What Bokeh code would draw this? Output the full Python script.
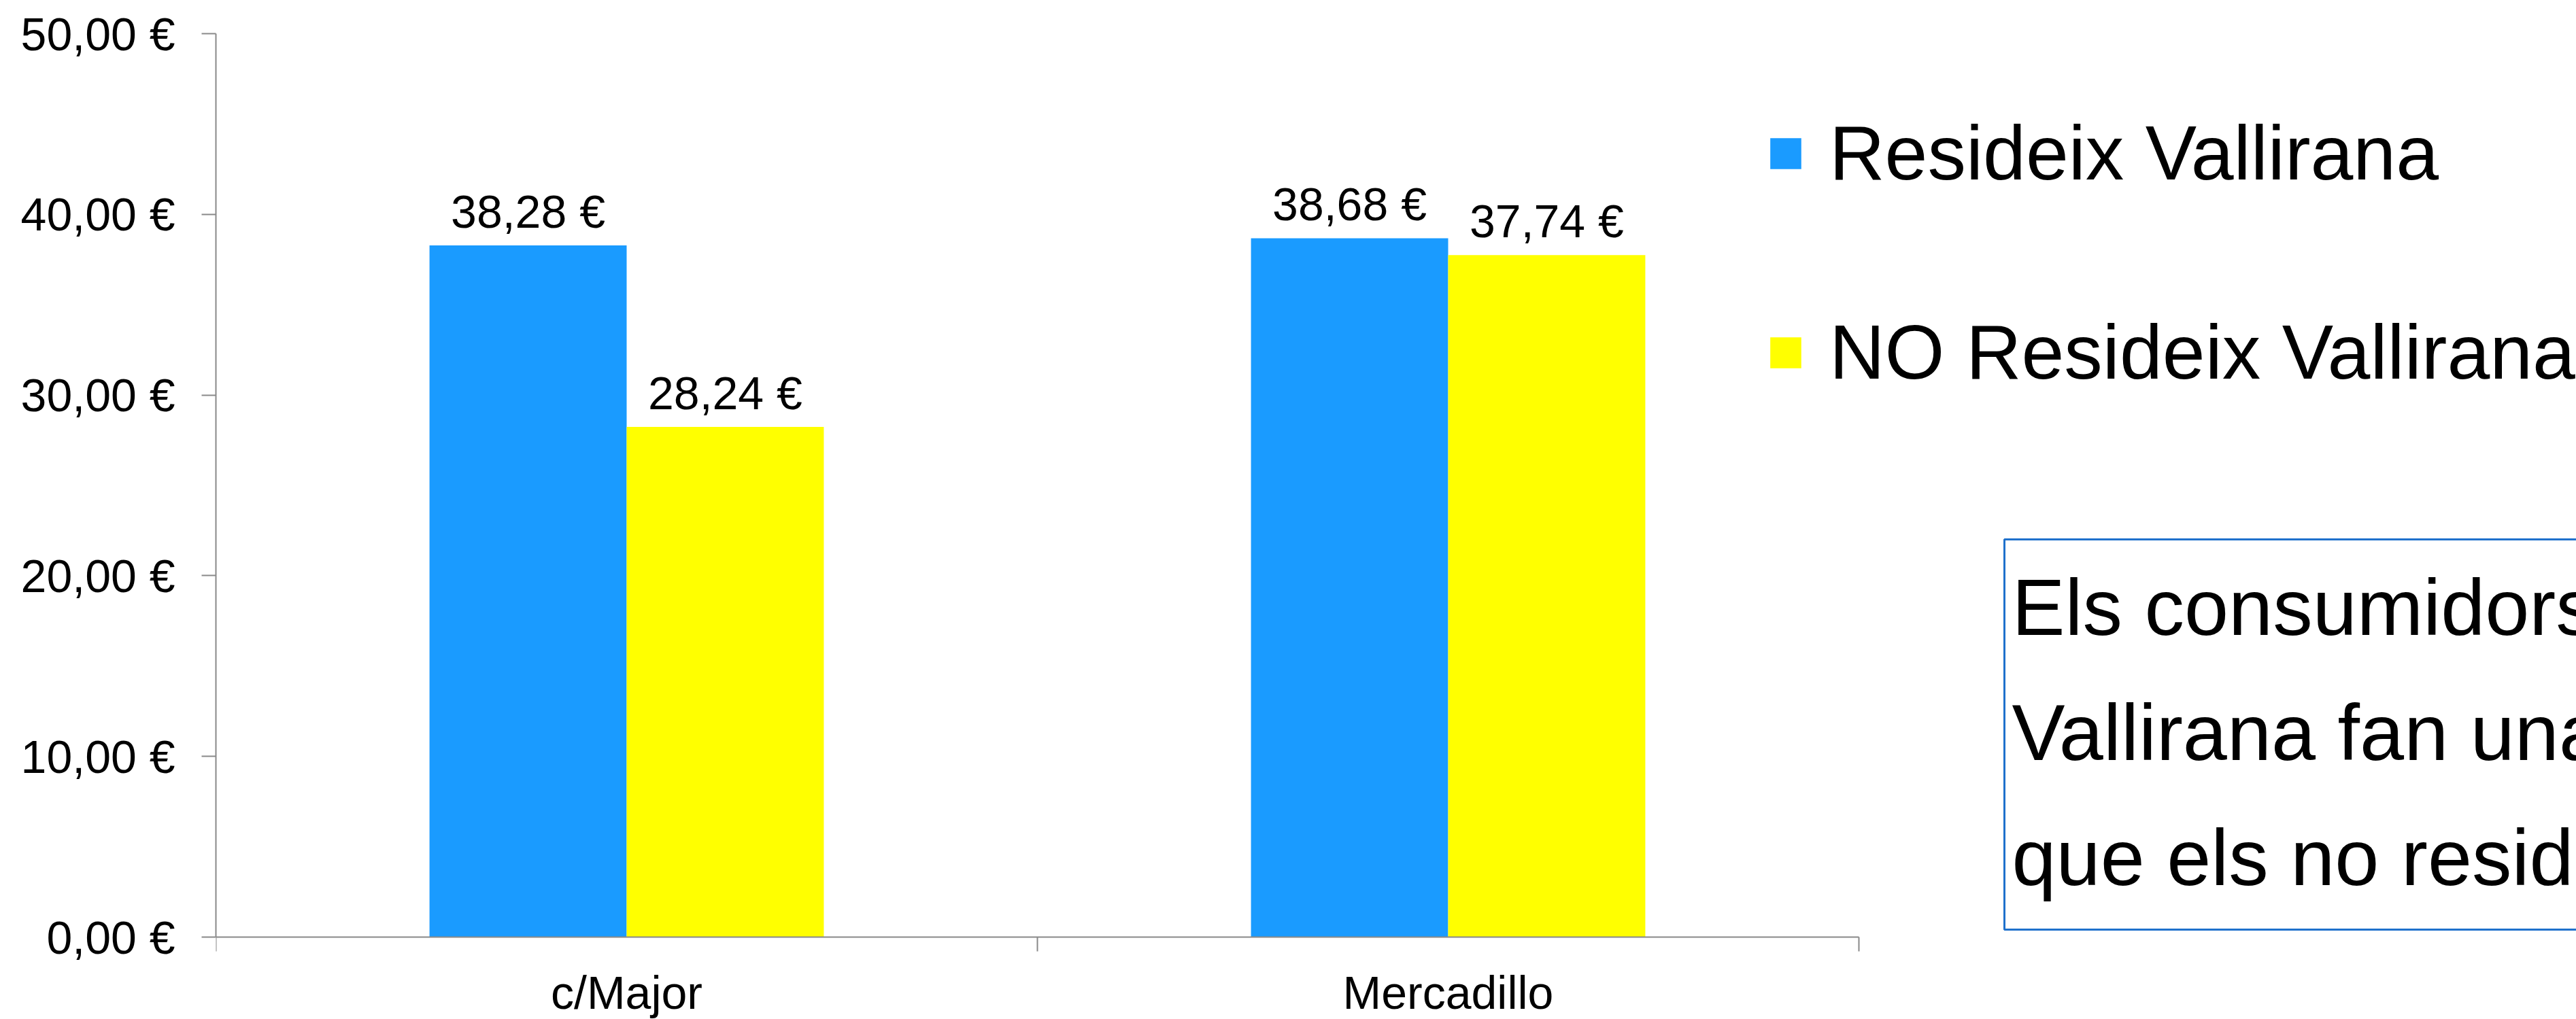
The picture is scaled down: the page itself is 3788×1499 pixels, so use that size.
from bokeh.plotting import figure
from bokeh.models import (Range1d, FixedTicker, ColumnDataSource, LabelSet,
                          Legend, LegendItem, Label)
from bokeh.embed import file_html
from bokeh.resources import INLINE
from bokeh.core.properties import value

# ---------------- data ----------------
categories = ["c/Major", "Mercadillo"]
series_names = ["Resideix Vallirana", "NO Resideix Vallirana"]
residents = [38.28, 38.68]
non_residents = [28.24, 37.74]
series_values = [residents, non_residents]
series_colors = ["#1A9BFF", "#FFFF00"]
y_ticks = [0, 10, 20, 30, 40, 50]
note_lines = ["Els consumidors", "Vallirana fan una", "que els no residents"]


def euro(v):
    return f"{v:.2f}".replace(".", ",") + " €"


# ---------------- layout constants ----------------
W, H = 3788, 1499
LEFT, TOP = 317, 49
PLOT_H = 1329          # pixels from 0 to 50 on the value axis
CAT_PX = 1208          # pixel width of one category band
FONT = "Liberation Sans"
AXIS_COL = "#898989"

n_cat = len(categories)
y_max = y_ticks[-1]
x_end = (W - LEFT) / CAT_PX                     # frame spans the full width
y_start = -(H - TOP - PLOT_H) * y_max / PLOT_H  # frame extends to the canvas bottom

p = figure(width=W, height=H, output_backend="svg", toolbar_location=None,
           x_range=Range1d(0, x_end), y_range=Range1d(y_start, y_max),
           min_border_left=LEFT, min_border_right=0,
           min_border_top=TOP, min_border_bottom=0)
p.xgrid.visible = False
p.ygrid.visible = False
p.outline_line_color = None
p.background_fill_color = "white"
p.border_fill_color = "white"

bar_w = 0.24
centers = [i + 0.5 for i in range(n_cat)]
renderers = []
for k, (vals, col) in enumerate(zip(series_values, series_colors)):
    xs = [c + (k - 0.5) * bar_w for c in centers]
    src = ColumnDataSource(dict(x=xs, top=vals, label=[euro(v) for v in vals]))
    r = p.vbar(x="x", top="top", bottom=0, width=bar_w, source=src,
               fill_color=col, line_color=None)
    renderers.append(r)
    labels = LabelSet(x="x", y="top", text="label", source=src,
                      text_align="center", text_baseline="alphabetic",
                      y_offset=26, text_font=value(FONT),
                      text_font_size=value("68px"), text_color="black")
    p.add_layout(labels)

# y axis
ya = p.yaxis[0]
ya.bounds = (0, y_max)
ya.ticker = FixedTicker(ticks=y_ticks)
ya.major_label_overrides = {t: euro(t) for t in y_ticks}
ya.major_label_text_font = FONT
ya.major_label_text_font_size = "68px"
ya.major_label_text_color = "black"
ya.major_label_standoff = 39
ya.major_tick_out = 21
ya.major_tick_in = 0
ya.minor_tick_line_color = None
ya.axis_line_color = AXIS_COL
ya.axis_line_width = 2
ya.major_tick_line_color = AXIS_COL
ya.major_tick_line_width = 2

# x axis at value 0: labels at category centres, ticks at category boundaries
xa = p.xaxis[0]
xa.fixed_location = 0
xa.bounds = (0, n_cat)
xa.ticker = FixedTicker(ticks=centers, minor_ticks=list(range(n_cat + 1)))
xa.major_label_overrides = {c: name for c, name in zip(centers, categories)}
xa.major_label_text_font = FONT
xa.major_label_text_font_size = "68px"
xa.major_label_text_color = "black"
xa.major_label_standoff = 22
xa.major_tick_out = 0
xa.major_tick_in = 0
xa.major_tick_line_color = None
xa.minor_tick_out = 21
xa.minor_tick_in = 0
xa.minor_tick_line_color = AXIS_COL
xa.minor_tick_line_width = 2
xa.axis_line_color = AXIS_COL
xa.axis_line_width = 2

# legend (position in screen px from the frame's bottom-left)
legend = Legend(items=[LegendItem(label=n, renderers=[r])
                       for n, r in zip(series_names, renderers)],
                location=(2280, 916), glyph_width=57, glyph_height=57,
                label_text_font=FONT, label_text_font_size="113px",
                label_text_color="black",
                label_standoff=36, spacing=163, padding=0, margin=0,
                border_line_color=None, background_fill_alpha=0)
p.add_layout(legend)

# note box
note = Label(x=2630, y=706, x_units="screen", y_units="screen",
             text="\n".join(note_lines), text_font=FONT, text_font_size="117px",
             text_line_height=1.405, text_align="left", text_baseline="top",
             text_color="black", border_line_color="#1F71CC", border_line_width=3,
             background_fill_color="white",
             padding=dict(left=11, right=80, top=34, bottom=41))
p.add_layout(note)

open("out.html", "w").write(file_html(p, INLINE))
